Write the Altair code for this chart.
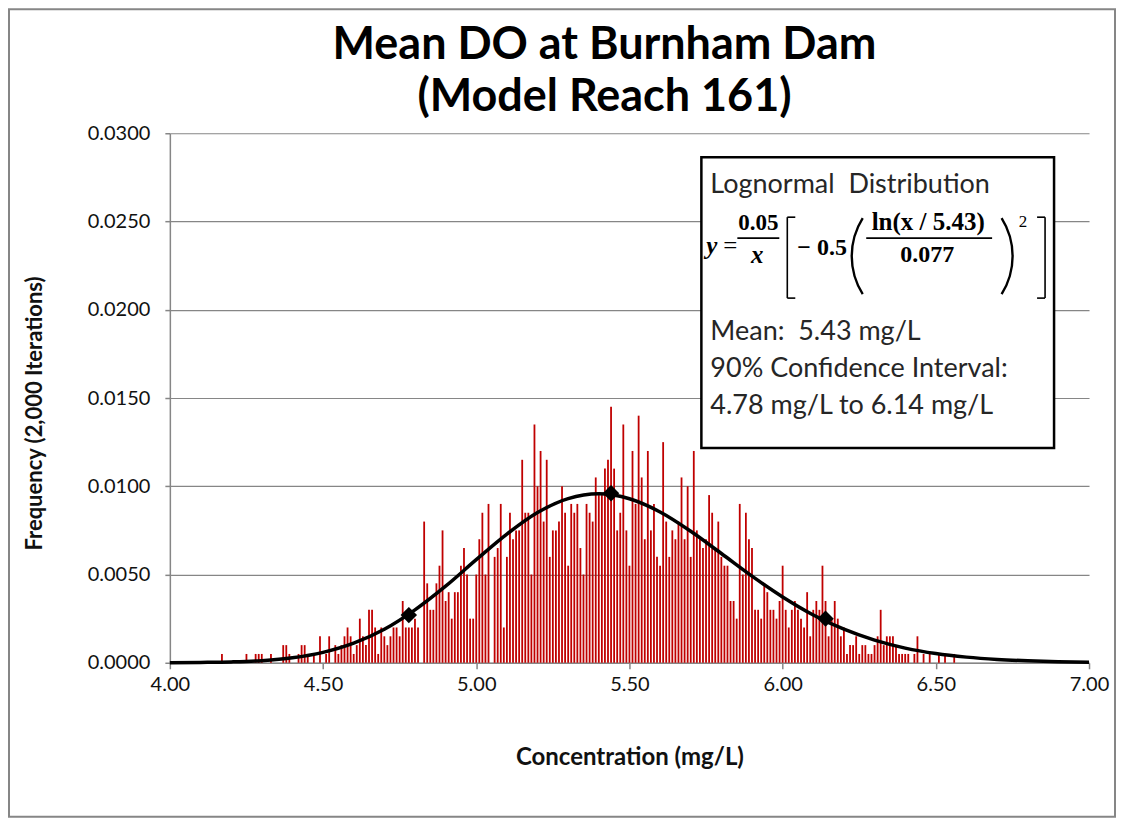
import altair as alt
import pandas as pd
import math

# ---------------- data ----------------
# histogram bins (mg/L) and counts out of 2,000 iterations
bin_x = [4.17, 4.25, 4.28, 4.29, 4.30, 4.33, 4.37, 4.38, 4.39, 4.42, 4.43, 4.44, 4.45, 4.47, 4.49,
         4.51, 4.52, 4.54, 4.55, 4.56, 4.57, 4.58, 4.59, 4.60, 4.61, 4.62, 4.63, 4.64, 4.65, 4.66,
         4.67, 4.68, 4.69, 4.70, 4.71, 4.72, 4.73, 4.74, 4.75, 4.76, 4.77, 4.78, 4.79, 4.80, 4.81,
         4.83, 4.84, 4.85, 4.86, 4.87, 4.88, 4.89, 4.90, 4.91, 4.92, 4.93, 4.94, 4.95, 4.96, 4.97,
         4.98, 4.99, 5.00, 5.01, 5.02, 5.03, 5.04, 5.06, 5.07, 5.08, 5.09, 5.10, 5.11, 5.12, 5.13,
         5.14, 5.15, 5.16, 5.17, 5.18, 5.19, 5.20, 5.21, 5.22, 5.23, 5.24, 5.25, 5.26, 5.27, 5.28,
         5.29, 5.30, 5.31, 5.32, 5.33, 5.34, 5.35, 5.36, 5.37, 5.38, 5.39, 5.40, 5.41, 5.42, 5.43,
         5.44, 5.45, 5.46, 5.47, 5.48, 5.49, 5.50, 5.51, 5.52, 5.53, 5.54, 5.55, 5.56, 5.57, 5.58,
         5.59, 5.60, 5.61, 5.62, 5.63, 5.64, 5.65, 5.66, 5.67, 5.68, 5.69, 5.70, 5.71, 5.72, 5.73,
         5.74, 5.75, 5.76, 5.77, 5.78, 5.79, 5.80, 5.81, 5.82, 5.83, 5.84, 5.85, 5.86, 5.87, 5.88,
         5.89, 5.90, 5.91, 5.92, 5.93, 5.94, 5.95, 5.96, 5.97, 5.98, 5.99, 6.00, 6.01, 6.02, 6.03,
         6.04, 6.05, 6.06, 6.07, 6.08, 6.09, 6.10, 6.11, 6.12, 6.13, 6.14, 6.15, 6.16, 6.17, 6.18,
         6.19, 6.20, 6.21, 6.22, 6.23, 6.24, 6.25, 6.26, 6.27, 6.28, 6.29, 6.30, 6.31, 6.32, 6.33,
         6.34, 6.35, 6.36, 6.37, 6.38, 6.39, 6.40, 6.41, 6.43, 6.44, 6.46, 6.48, 6.51, 6.53, 6.56]
bin_count = [1, 1, 1, 1, 1, 1, 2, 2, 1, 1, 2, 2, 1, 1, 3,
             1, 3, 2, 1, 2, 3, 4, 3, 1, 2, 5, 3, 2, 6, 6,
             4, 1, 4, 3, 2, 3, 4, 4, 3, 7, 4, 4, 4, 5, 4,
             16, 9, 6, 6, 9, 11, 15, 7, 8, 5, 8, 8, 11, 13, 10,
             5, 5, 10, 14, 17, 10, 18, 12, 13, 18, 4, 12, 17, 14, 15,
             15, 23, 17, 17, 10, 27, 20, 24, 16, 23, 12, 15, 15, 16, 20,
             17, 11, 18, 17, 18, 13, 10, 18, 17, 16, 21, 19, 19, 22, 23,
             29, 22, 15, 17, 27, 15, 11, 24, 18, 28, 21, 14, 24, 15, 18,
             12, 11, 25, 16, 12, 15, 14, 16, 21, 14, 20, 12, 24, 15, 14,
             13, 14, 19, 17, 13, 16, 12, 11, 11, 7, 7, 5, 18, 10, 17,
             14, 13, 6, 6, 5, 9, 8, 6, 6, 5, 7, 11, 6, 4, 6,
             7, 6, 5, 4, 8, 3, 6, 7, 6, 11, 7, 3, 5, 7, 5,
             3, 4, 1, 2, 2, 3, 1, 2, 2, 1, 1, 2, 3, 6, 2,
             3, 3, 3, 2, 1, 1, 1, 1, 1, 3, 1, 1, 1, 1, 1]
iterations = 2000

# fitted lognormal curve
curve_x = [4.0, 4.1, 4.2, 4.3, 4.4, 4.5, 4.6, 4.7, 4.8, 4.9, 5.0, 5.1, 5.2, 5.3, 5.4, 5.5,
           5.6, 5.7, 5.8, 5.9, 6.0, 6.1, 6.2, 6.3, 6.4, 6.5, 6.6, 6.7, 6.8, 6.9, 7.0]
curve_y = [0.00000, 0.00002, 0.00005, 0.00012, 0.00028, 0.00059, 0.00111, 0.00190, 0.00300,
           0.00434, 0.00584, 0.00729, 0.00851, 0.00930, 0.00957, 0.00929, 0.00854, 0.00745,
           0.00619, 0.00491, 0.00373, 0.00271, 0.00190, 0.00128, 0.00083, 0.00052, 0.00032,
           0.00019, 0.00011, 0.00006, 0.00003]

# markers: lower 90% bound, mean, upper 90% bound
marker_x = [4.78, 5.44, 6.14]
marker_y = [0.0027, 0.0096, 0.0025]

x_ticks = [4.0, 4.5, 5.0, 5.5, 6.0, 6.5, 7.0]
y_ticks = [0.0, 0.005, 0.010, 0.015, 0.020, 0.025, 0.030]

# ---------------- tables ----------------
bars_df = pd.DataFrame({"x": bin_x, "freq": [c / iterations for c in bin_count]})
curve_df = pd.DataFrame({"x": curve_x, "y": curve_y})
marker_df = pd.DataFrame({"x": marker_x, "y": marker_y})
one = pd.DataFrame({"k": [0]})

GRAY = "#868686"
TXT = "#111111"
BOXTXT = "#262626"
SANS = "Lato"
SERIF = "Liberation Serif"
NB = "\u00a0"

x_scale = alt.Scale(domain=[4, 7], nice=False, zero=False)
y_scale = alt.Scale(domain=[0, 0.03], nice=False)

x_axis = alt.Axis(values=x_ticks, format=".2f", grid=False, domainColor=GRAY, domainWidth=1.5,
                  tickColor=GRAY, tickSize=6, tickWidth=1.5, labelFont=SANS, labelFontSize=20,
                  labelColor=TXT, labelPadding=6, labelFlush=False,
                  title="Concentration (mg/L)", titleFont=SANS,
                  titleFontSize=24, titleFontWeight="bold", titleColor=TXT, titleX=460, titleY=95,
                  titleAlign="center", titleBaseline="middle")
y_axis = alt.Axis(values=y_ticks, format=".4f", grid=True, gridColor=GRAY, gridWidth=1.2,
                  domainColor=GRAY, domainWidth=1.5, tickColor=GRAY, tickSize=5, tickWidth=1.5,
                  labelFont=SANS, labelFontSize=20, labelColor=TXT, labelPadding=15,
                  labelFlush=False,
                  title="Frequency (2,000 Iterations)", titleFont=SANS, titleFontSize=22,
                  titleFontWeight="bold", titleColor=TXT, titleX=-135, titleY=280, titleAngle=-90,
                  titleAlign="center", titleBaseline="middle")

bars = alt.Chart(bars_df).mark_rule(color="#C00000", strokeWidth=1.8).encode(
    x=alt.X("x:Q", scale=x_scale, axis=x_axis),
    y=alt.Y("freq:Q", scale=y_scale, axis=y_axis),
    y2=alt.datum(0),
)

curve = alt.Chart(curve_df).mark_line(color="black", strokeWidth=3.5, interpolate="monotone").encode(
    x=alt.X("x:Q", scale=x_scale), y=alt.Y("y:Q", scale=y_scale))

markers = alt.Chart(marker_df).mark_point(shape="diamond", filled=True, size=270, color="black",
                                          opacity=1).encode(
    x=alt.X("x:Q", scale=x_scale), y=alt.Y("y:Q", scale=y_scale))


def txt(s, x, y, size, font=SANS, weight="normal", align="left", baseline="alphabetic",
        color=TXT, style="normal"):
    return alt.Chart(one).mark_text(text=s, fontSize=size, font=font, fontWeight=weight,
                                    fontStyle=style, align=align, baseline=baseline,
                                    color=color).encode(x=alt.value(x), y=alt.value(y))


def rule(x1, x2, y1, y2, w=1.6, color="black"):
    return alt.Chart(one).mark_rule(color=color, strokeWidth=w).encode(
        x=alt.value(x1), x2=alt.value(x2), y=alt.value(y1), y2=alt.value(y2))


def paren(cx, cy, height, bulge, left=True, w=2.4):
    r = (height * height / 4 + bulge * bulge) / (2 * bulge)
    half = math.asin((height / 2) / r)
    if left:
        centre_x = cx + r - bulge / 2
        a, b = 1.5 * math.pi - half, 1.5 * math.pi + half
    else:
        centre_x = cx - r + bulge / 2
        a, b = 0.5 * math.pi - half, 0.5 * math.pi + half
    return alt.Chart(one).mark_arc(theta=a, theta2=b, radius=r + w / 2, radius2=r - w / 2,
                                   color="black").encode(x=alt.value(centre_x), y=alt.value(cy))


# outer chart frame
frame = alt.Chart(one).mark_rect(fillOpacity=0, stroke=GRAY, strokeWidth=2).encode(
    x=alt.value(-161), x2=alt.value(946), y=alt.value(-124), y2=alt.value(684))

# title
title1 = txt("Mean DO at Burnham Dam", 435, -74, 45, weight="bold", align="center", color="black")
title2 = txt("(Model Reach 161)", 435, -22, 45, weight="bold", align="center", color="black")

# annotation box
box = alt.Chart(one).mark_rect(fill="white", stroke="black", strokeWidth=2.5).encode(
    x=alt.value(532), x2=alt.value(885), y=alt.value(24), y2=alt.value(315))

layers = [frame, bars, curve, markers, box, title1, title2,
          txt("Lognormal" + NB + NB + "Distribution", 541, 60, 27, color=BOXTXT),
          txt("y", 537, 121, 25, font=SERIF, weight="bold", style="italic", color="black"),
          txt("=", 561, 121, 25, font=SERIF, align="center", color="black"),
          txt("0.05", 589, 97, 23, font=SERIF, weight="bold", align="center", color="black"),
          rule(568, 610, 105, 105),
          txt("x", 588, 130, 25, font=SERIF, weight="bold", style="italic", align="center",
              color="black"),
          rule(618, 618, 84, 165), rule(618, 626, 84, 84), rule(618, 626, 165, 165),
          txt("−" + NB + "0.5", 628, 122, 24, font=SERIF, weight="bold", color="black"),
          paren(688, 123, 76, 11, left=True),
          txt("ln(x" + NB + "/" + NB + "5.43)", 759, 97, 25, font=SERIF, weight="bold",
              align="center", color="black"),
          rule(697, 823, 105, 105),
          txt("0.077", 758, 129, 24, font=SERIF, weight="bold", align="center", color="black"),
          paren(838, 123, 76, 11, left=False),
          txt("2", 854, 94, 17, font=SERIF, align="center", color="black"),
          rule(876, 876, 84, 165), rule(868, 876, 84, 84), rule(868, 876, 165, 165),
          txt("Mean:" + NB + NB + "5.43 mg/L", 541, 207, 27, color=BOXTXT),
          txt("90% Confidence Interval:", 541, 244, 27, color=BOXTXT),
          txt("4.78 mg/L to 6.14 mg/L", 541, 281, 27, color=BOXTXT)]

chart = alt.layer(*layers).properties(
    width=920, height=530,
    autosize=alt.AutoSizeParams(type="none"),
    padding={"left": 162, "top": 125, "right": 28, "bottom": 156},
    background="white",
).configure_view(stroke=None)

chart.save("out.html", embed_options={"renderer": "svg", "actions": False})
